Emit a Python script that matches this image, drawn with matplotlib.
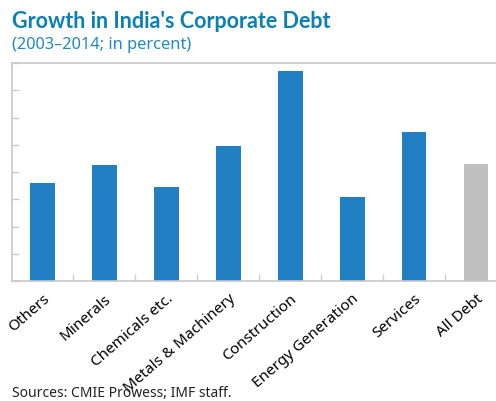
import matplotlib
matplotlib.use('Agg')
import matplotlib.pyplot as plt

# data (axis has no labels, assumed 0-40 scale)
categories = ['Others', 'Minerals', 'Chemicals etc.', 'Metals & Machinery',
              'Construction', 'Energy Generation', 'Services', 'All Debt']
growth = [17.9, 21.2, 17.2, 24.8, 38.5, 15.4, 27.3, 21.5]
bar_colors = ['#2180C3'] * 7 + ['#BFBFBF']

plt.rcParams['font.family'] = ['Noto Sans', 'DejaVu Sans']

fig = plt.figure(figsize=(4.96, 4.02), dpi=100)
ax = fig.add_axes([11.5 / 496, 1 - 282 / 402, (507 - 11.5) / 496, 218 / 402])

x = range(len(categories))
ax.bar(x, growth, width=0.4, color=bar_colors, zorder=2)
ax.set_xlim(-0.5, 7.5)
ax.set_ylim(0, 40)

ax.set_yticks(range(0, 41, 5))
ax.set_yticklabels([])
ax.tick_params(axis='y', direction='in', length=5, color='#C8C8C8', width=1)

# category labels via minor ticks, boundary ticks via major ticks
ax.set_xticks([i + 0.5 for i in range(len(categories))])
ax.set_xticklabels([])
ax.tick_params(axis='x', which='major', direction='in', length=5, color='#D0D0D0', width=1)
ax.set_xticks(list(x), minor=True)
ax.set_xticklabels(categories, minor=True, rotation=41, ha='right',
                   rotation_mode='anchor', fontsize=11)
ax.tick_params(axis='x', which='minor', length=0, pad=7)

for s in ['left', 'bottom', 'top']:
    ax.spines[s].set_color('#C8C8C8')
    ax.spines[s].set_linewidth(1.2)
ax.spines['right'].set_visible(False)

fig.text(12 / 496, 1 - 22 / 402, "Growth in India's Corporate Debt", fontsize=15.5,
         fontweight='bold', family='Lato', color='#0A80B5', va='center')
fig.text(12 / 496, 1 - 45 / 402, '(2003\u20132014; in percent)', fontsize=11.8,
         color='#1E8BC3', va='center')
fig.text(12 / 496, 1 - 394 / 402, 'Sources: CMIE Prowess; IMF staff.', fontsize=10,
         color='#222222', va='center')

fig.savefig('out.png', dpi=100)
